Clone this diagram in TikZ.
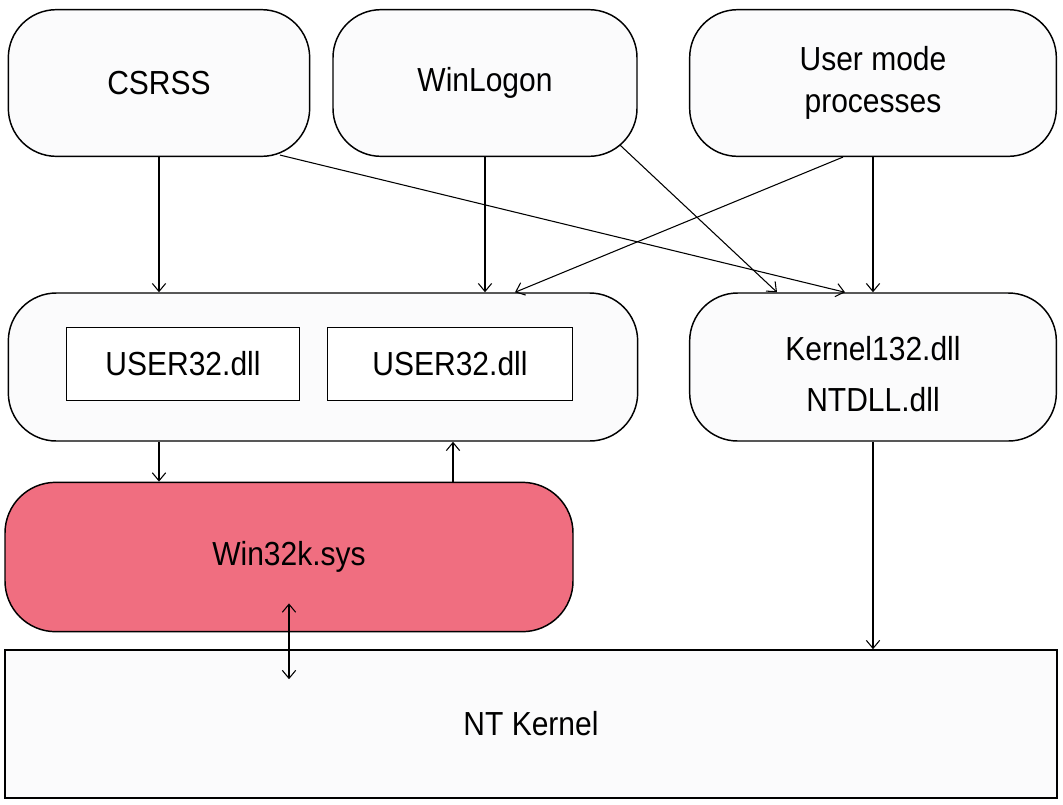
\documentclass[tikz,border=0pt]{standalone}
\usepackage{fontspec}
\setmainfont{Liberation Sans}[FakeStretch=0.9]
\definecolor{win32red}{RGB}{240, 110, 128}
\definecolor{boxfill}{RGB}{251, 251, 252}
\usepackage{tikz}
\usetikzlibrary{shapes, arrows.meta, positioning, calc}

\begin{document}
\begin{tikzpicture}[x=0.75pt, y=-0.75pt,
    procbox/.style={draw, line width=1.1pt, fill=boxfill, rounded corners=36pt, inner sep=0pt, align=center, font=\fontsize{25}{31}\selectfont},
    dllbox/.style={draw, line width=1.2pt, fill=white, inner sep=0pt, minimum width=175pt, minimum height=55pt, font=\fontsize{25}{31}\selectfont},
    arr/.style={line width=0.8pt, -{Straight Barb[length=6pt, width=10pt]}},
    dblarr/.style={line width=0.8pt, {Straight Barb[length=6pt, width=10pt]}-{Straight Barb[length=6pt, width=10pt]}}]
  \useasboundingbox (0,0) rectangle (1063,804);

  % top row
  \node[procbox, minimum width=226pt, minimum height=110pt] (csrss) at (159,83) {CSRSS};
  \node[procbox, minimum width=228pt, minimum height=110pt] (winlogon) at (485,83) {WinLogon};
  \node[procbox, minimum width=275pt, minimum height=110pt] (usermode) at (873,83) {User mode\\processes};

  % middle row
  \node[procbox, minimum width=472pt, minimum height=111pt] (ulayer) at (323,367) {};
  \node[dllbox] (userdll1) at (183,364) {USER32.dll};
  \node[dllbox, minimum width=184pt] (userdll2) at (450,364) {USER32.dll};
  \node[procbox, minimum width=275pt, minimum height=111pt] (kernel32) at (873,367) {};
  \node[align=center, inner sep=0pt, font=\fontsize{25}{31}\selectfont] (kernel32txt) at (873,374) {Kernel132.dll\\[7pt]NTDLL.dll};

  % kernel side
  \node[procbox, fill=win32red, rounded corners=38pt, minimum width=426pt, minimum height=112pt] (win32k) at (289,557) {Win32k.sys};
  \node[draw, line width=1.2pt, fill=boxfill, inner sep=0pt, minimum width=789pt, minimum height=111pt, font=\fontsize{25}{31}\selectfont] (ntkernel) at (531,724) {NT Kernel};

  % connectors
  \draw[arr] (csrss.south) -- (csrss.south |- ulayer.north);
  \draw[arr] (winlogon.south) -- (winlogon.south |- ulayer.north);
  \draw[arr] (usermode.south) -- (usermode.south |- kernel32.north);
  \draw[arr] ($(csrss.south)+(121,-2)$) -- ($(kernel32.north)+(-28,0)$);
  \draw[arr] ($(winlogon.south)+(135,-12)$) -- ($(kernel32.north)+(-96,0)$);
  \draw[arr] ($(usermode.south)+(-30,0)$) -- ($(ulayer.north)+(192,0)$);
  \draw[arr] ($(ulayer.south)+(-164,0)$) -- ($(win32k.north)+(-130,0)$);
  \draw[arr] ($(win32k.north)+(164,0)$) -- ($(ulayer.south)+(130,0)$);
  \draw[arr] (kernel32.south) -- (kernel32.south |- ntkernel.north);
  \draw[dblarr] ($(win32k.south)+(0,-29)$) -- ($(win32k.south |- ntkernel.north)+(0,30)$);
\end{tikzpicture}
\end{document}
